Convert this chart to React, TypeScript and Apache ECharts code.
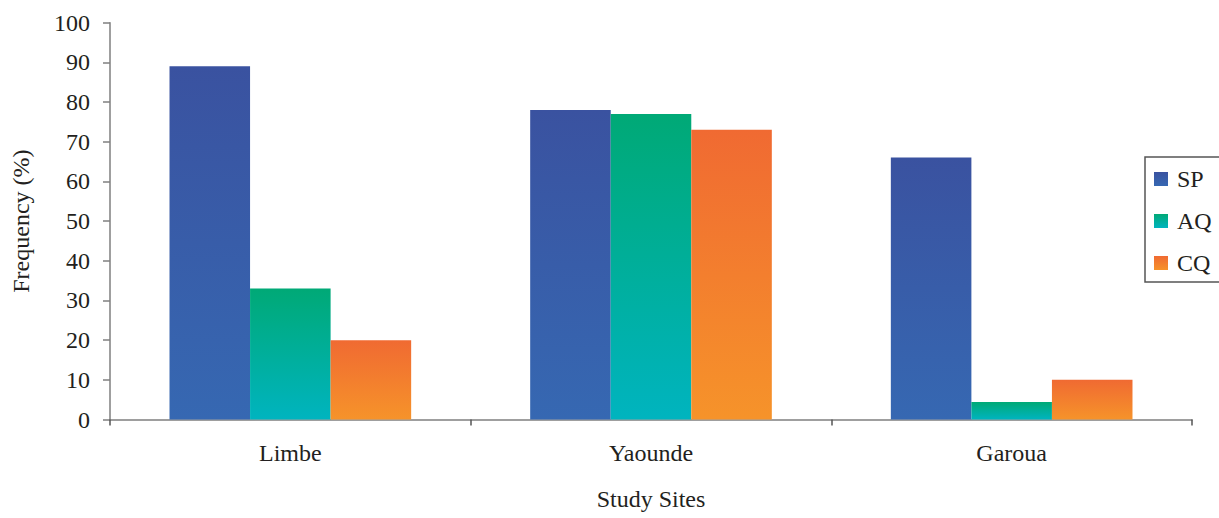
import React, { useEffect, useRef } from "react";
import * as echarts from "echarts";

// Study sites and frequencies (%) for each group
const sites = ["Limbe", "Yaounde", "Garoua"];
const seriesNames = ["SP", "AQ", "CQ"];
const spValues = [89, 78, 66];
const aqValues = [33, 77, 4.4];
const cqValues = [20, 73, 10];

const yMin = 0;
const yMax = 100;
const yStep = 10;

const FONT = "'Liberation Serif', 'Times New Roman', serif";
const TEXT = "#231f20";
const AXIS = "#7f7f7f";
const FS = 24;

const grad = (top: string, bottom: string) =>
  new echarts.graphic.LinearGradient(0, 0, 0, 1, [
    { offset: 0, color: top },
    { offset: 1, color: bottom },
  ]);

export default function App() {
  const ref = useRef<HTMLDivElement>(null);

  useEffect(() => {
    if (!ref.current) return;
    const chart = echarts.init(ref.current, undefined, { renderer: "svg" });

    const fills = [
      grad("#3a52a0", "#3668b2"),
      grad("#00a976", "#00b4bf"),
      grad("#f06a32", "#f6932a"),
    ];
    const data = [spValues, aqValues, cqValues];

    chart.setOption({
      animation: false,
      backgroundColor: "#ffffff",
      grid: { left: 110, right: 27, top: 22.7, bottom: 98.5, containLabel: false },
      legend: {
        orient: "vertical",
        left: 1145,
        top: 157,
        data: seriesNames,
        icon: "rect",
        itemWidth: 14,
        itemHeight: 14,
        itemGap: 18,
        padding: [10, 9, 7, 9],
        borderColor: "#555555",
        borderWidth: 1.5,
        textStyle: { fontFamily: FONT, fontSize: FS, color: TEXT, padding: [0, 0, 0, 4] },
      },
      xAxis: {
        type: "category",
        data: sites,
        boundaryGap: true,
        name: "Study Sites",
        nameLocation: "middle",
        nameGap: 67,
        nameTextStyle: { fontFamily: FONT, fontSize: FS, color: TEXT },
        axisLine: { show: true, lineStyle: { color: AXIS, width: 1.5 } },
        axisTick: { show: true, length: 6, lineStyle: { color: "#555555", width: 1.5 } },
        axisLabel: { fontFamily: FONT, fontSize: FS, color: TEXT, margin: 21 },
        splitLine: { show: false },
      },
      yAxis: {
        type: "value",
        min: yMin,
        max: yMax,
        interval: yStep,
        name: "Frequency (%)",
        nameLocation: "middle",
        nameGap: 77,
        nameRotate: 90,
        nameTextStyle: { fontFamily: FONT, fontSize: FS, color: TEXT },
        axisLine: { show: true, lineStyle: { color: AXIS, width: 1.5 } },
        axisTick: { show: true, length: 7, lineStyle: { color: AXIS, width: 1.5 } },
        axisLabel: { fontFamily: FONT, fontSize: FS, color: TEXT, margin: 20 },
        splitLine: { show: false },
      },
      series: seriesNames.map((name, i) => ({
        name,
        type: "bar",
        data: data[i],
        barGap: "0%",
        barCategoryGap: "33%",
        itemStyle: { color: fills[i] },
      })),
    });

    return () => chart.dispose();
  }, []);

  return (
    <div
      ref={ref}
      style={{ position: "fixed", left: 0, top: 0, width: 1219, height: 518, overflow: "hidden" }}
    />
  );
}
